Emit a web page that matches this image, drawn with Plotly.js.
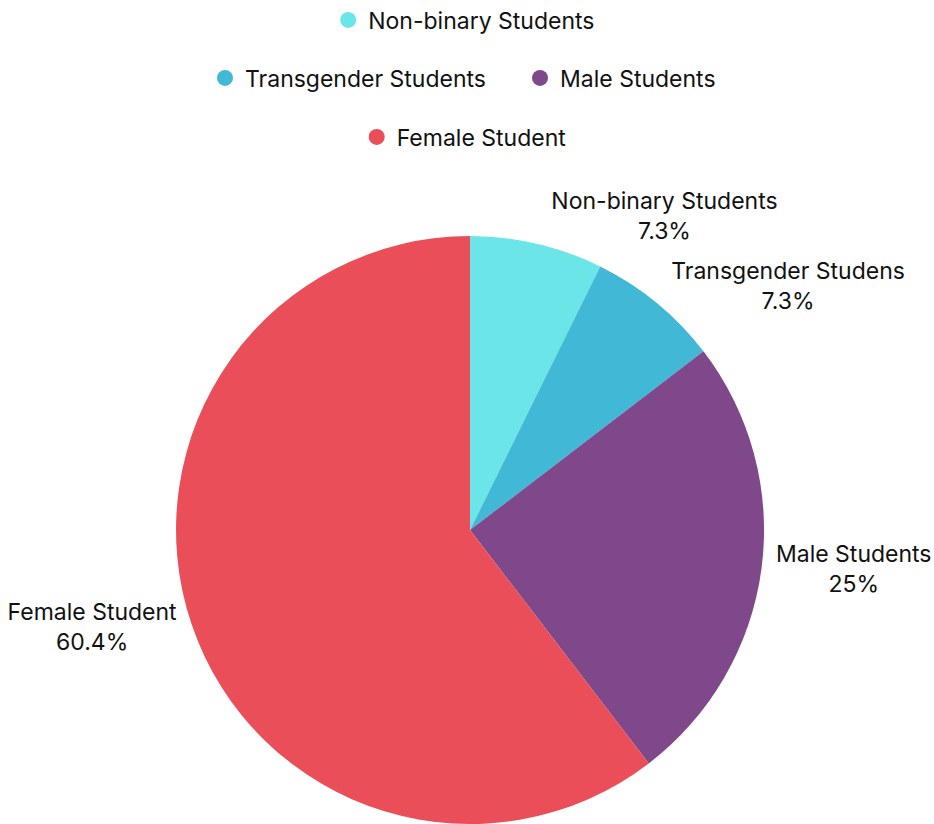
<!DOCTYPE html>
<html>
<head>
<meta charset="utf-8">
<script src="https://cdn.plot.ly/plotly-3.0.1.min.js"></script>
<style>html,body{margin:0;padding:0;background:#fff;}#chart{width:934px;height:824px;}</style>
</head>
<body>
<div id="chart"></div>
<script>
const legendLabels = ["Non-binary Students", "Transgender Students", "Male Students", "Female Student"];
const sliceLabels = ["Non-binary Students", "Transgender Studens", "Male Students", "Female Student"];
const shares = [7.3, 7.3, 25, 60.4];
const colors = ["#6ce5e8", "#41b8d5", "#7f488b", "#ea4f59"];
const legendRows = ["legend", "legend2", "legend2", "legend3"];

const FONT = "Inter, 'DejaVu Sans', sans-serif";
const FS = 23;

const pie = {
  type: "pie",
  labels: legendLabels,
  values: shares,
  text: sliceLabels,
  texttemplate: "%{text}<br>%{value}%",
  textposition: "outside",
  textfont: {family: FONT, size: FS, color: "#111111"},
  marker: {colors: colors, line: {width: 0}},
  sort: false,
  direction: "clockwise",
  rotation: 0,
  showlegend: false,
  hoverinfo: "label+percent",
  domain: {x: [0.1874, 0.8191], y: [0, 0.7136]}
};

const legendTraces = legendLabels.map((name, i) => ({
  type: "scatter",
  mode: "markers",
  x: [null],
  y: [null],
  name: name,
  marker: {color: colors[i], size: 22, symbol: "circle"},
  legend: legendRows[i],
  showlegend: true,
  hoverinfo: "skip"
}));

const legendBase = {
  orientation: "h",
  xref: "container",
  yref: "container",
  x: 0.497,
  xanchor: "center",
  yanchor: "middle",
  itemsizing: "trace",
  font: {family: FONT, size: FS, color: "#111111"},
  bgcolor: "rgba(0,0,0,0)",
  itemclick: false,
  itemdoubleclick: false
};

const layout = {
  width: 934,
  height: 824,
  margin: {l: 0, r: 0, t: 0, b: 0, autoexpand: false},
  paper_bgcolor: "#ffffff",
  plot_bgcolor: "#ffffff",
  font: {family: FONT, size: FS, color: "#111111"},
  xaxis: {visible: false},
  yaxis: {visible: false},
  legend: Object.assign({}, legendBase, {y: 1 - 20 / 824}),
  legend2: Object.assign({}, legendBase, {y: 1 - 78 / 824, x: 0.2195, xanchor: "left", entrywidth: 270, entrywidthmode: "pixels"}),
  legend3: Object.assign({}, legendBase, {y: 1 - 137 / 824})
};

Plotly.newPlot("chart", [pie].concat(legendTraces), layout, {displayModeBar: false, staticPlot: true});
</script>
</body>
</html>
